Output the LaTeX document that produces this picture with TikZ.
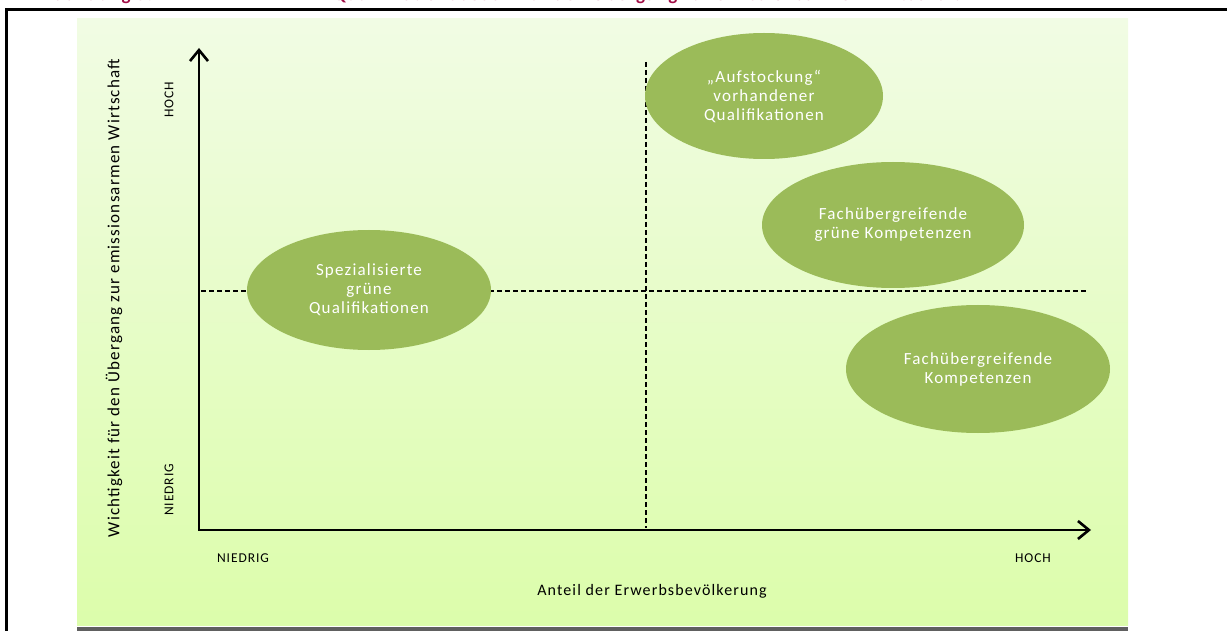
\documentclass[tikz,border=0pt]{standalone}
\usepackage{fontspec}
\setmainfont{Carlito}[LetterSpace=7]
\usetikzlibrary{arrows.meta,shapes.geometric}
\definecolor{titlered}{HTML}{A10D45}
\definecolor{paneltop}{HTML}{F1FCE4}
\definecolor{panelbot}{HTML}{DCFDAB}
\definecolor{bubblefill}{HTML}{9BBB59}
\definecolor{bargray}{HTML}{606060}
\tikzset{
  bubble/.style={ellipse, fill=bubblefill, draw=none, text=white, align=center,
    font=\fontsize{17}{19}\selectfont, inner sep=0pt},
  axisline/.style={line width=2.6pt, line join=miter,
    arrows={Straight Barb[length=11pt,width=18pt]-Straight Barb[length=11pt,width=18pt]}},
  guideline/.style={line width=1.8pt, dash pattern=on 5pt off 3pt},
  ticklabel/.style={font=\fontsize{13.5}{15}\selectfont, inner sep=0pt},
  axistitle/.style={font=\fontsize{17}{19}\selectfont, inner sep=0pt},
}
\begin{document}
\begin{tikzpicture}[x=1pt,y=-1pt]
\useasboundingbox (0,0) rectangle (1227,631);
\clip (0,0) rectangle (1227,631);
% title (cut off at the top, as in the reference)
\node[anchor=base west, inner sep=0pt, text=titlered, font=\bfseries\fontsize{19}{21}\selectfont] (title) at (39,0.8)
  {Abbildung 5:\hspace{180pt}Qualifikationsbedarf für den Übergang zur emissionsarmen Wirtschaft};
% frame
\draw[line width=3pt] (6,700) -- (6,9.5) -- (1300,9.5);
% panel
\shade[top color=paneltop, bottom color=panelbot] (77,19) rectangle (1128,625);
\fill[bargray] (77,627) rectangle (1128,640);
% axes
\coordinate (O) at (199,530);
\coordinate (ytip) at (199,48);
\coordinate (xtip) at (1091,530);
\draw[axisline] (ytip) -- (O) -- (xtip);
% guide lines
\coordinate (hL) at (201,291);
\coordinate (hR) at (1088,291);
\coordinate (vT) at (646,62);
\coordinate (vB) at (646,528);
\draw[guideline] (hL) -- (hR);
\draw[guideline] (vT) -- (vB);
% bubbles
\node[bubble, minimum width=238pt, minimum height=126pt] (auf) at (764,96)
  {„Aufstockung“\\vorhandener\\Qualifikationen};
\node[bubble, minimum width=262pt, minimum height=126pt] (fgk) at (893,225)
  {Fachübergreifende\\grüne Kompetenzen};
\node[bubble, minimum width=244pt, minimum height=120pt] (spez) at (369,290)
  {Spezialisierte\\grüne\\Qualifikationen};
\node[bubble, minimum width=264pt, minimum height=128pt] (fk) at (978,369)
  {Fachübergreifende\\Kompetenzen};
% axis labels
\node[ticklabel, rotate=90] (yhoch) at (169,100) {HOCH};
\node[ticklabel, rotate=90] (yniedrig) at (169,490) {NIEDRIG};
\node[ticklabel] (xniedrig) at (243,558) {NIEDRIG};
\node[ticklabel] (xhoch) at (1033,558) {HOCH};
\node[axistitle, rotate=90] (ytitle) at (114,298) {Wichtigkeit für den Übergang zur emissionsarmen Wirtschaft};
\node[axistitle, font=\fontsize{16}{18}\selectfont] (xtitle) at (652,591) {Anteil der Erwerbsbevölkerung};
\end{tikzpicture}
\end{document}
